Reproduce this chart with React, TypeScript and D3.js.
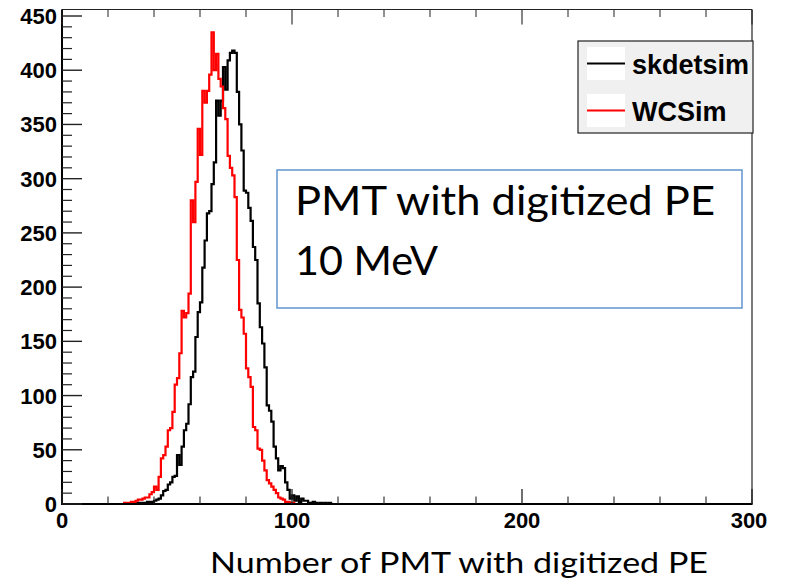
import React from 'react';
import * as d3 from 'd3';

// Histogram contents (1-unit bins on 0..300)
const skdetsimStart = 30;
const skdetsimCounts = [
  1, 0, 1, 1, 1, 1, 1, 2, 2, 2, // 30-39
  3, 4, 5, 8, 12, 13, 18, 20, 25, 26, // 40-49
  45, 36, 53, 68, 74, 92, 117, 122, 154, 177, // 50-59
  186, 218, 243, 268, 270, 295, 315, 372, 358, 372, // 60-69
  403, 382, 409, 416, 418, 416, 380, 350, 326, 289, // 70-79
  287, 273, 261, 237, 225, 185, 163, 148, 126, 91, // 80-89
  86, 76, 53, 42, 31, 35, 33, 20, 13, 5, // 90-99
  8, 3, 7, 2, 5, 3, 3, 1, 1, 2, // 100-109
  1, 0, 1, 0, 1, 0, 1, // 110-116
];

const wcsimStart = 27;
const wcsimCounts = [
  1, 1, 1, // 27-29
  2, 2, 3, 4, 4, 5, 6, 6, 9, 11, // 30-39
  16, 13, 25, 42, 45, 53, 68, 70, 85, 110, // 40-49
  116, 139, 178, 172, 176, 194, 280, 260, 297, 346, // 50-59
  322, 381, 370, 381, 396, 435, 400, 415, 392, 385, // 60-69
  365, 355, 321, 310, 303, 283, 225, 179, 172, 157, // 70-79
  125, 117, 108, 71, 68, 51, 50, 40, 31, 22, // 80-89
  19, 16, 13, 10, 6, 5, 4, 2, 2, 1, // 90-99
  1, // 100
];

const nBins = 300;
const xMajorTicks = [0, 100, 200, 300];
const xMinorStep = 20;
const yMajorTicks = [0, 50, 100, 150, 200, 250, 300, 350, 400, 450];
const yMinorStep = 10;
const legendLabels = ['skdetsim', 'WCSim'];
const seriesColors = ['#000000', '#ff0000'];
const boxLines = ['PMT with digitized PE', '10 MeV'];
const xTitle = 'Number of PMT with digitized PE';

function fullBins(start: number, counts: number[]): number[] {
  const arr = new Array(nBins).fill(0);
  counts.forEach((c, i) => {
    arr[start + i] = c;
  });
  return arr;
}

export default function App() {
  const x = d3.scaleLinear().domain([0, 300]).range([62, 752]);
  const y = d3.scaleLinear().domain([0, 456]).range([504, 9.5]);

  const stepPath = (bins: number[]) => {
    const pts: [number, number][] = [];
    bins.forEach((c, i) => {
      pts.push([i, c]);
      pts.push([i + 1, c]);
    });
    return d3
      .line<[number, number]>()
      .x((d) => x(d[0]))
      .y((d) => y(d[1]))(pts) as string;
  };

  const series = [fullBins(skdetsimStart, skdetsimCounts), fullBins(wcsimStart, wcsimCounts)];

  const xMinor = d3.range(0, 301, xMinorStep).filter((v) => !xMajorTicks.includes(v));
  const yMinor = d3.range(0, 451, yMinorStep).filter((v) => !yMajorTicks.includes(v));

  const tickColor = '#222';
  const numFont = "'Liberation Sans', Arial, Helvetica, sans-serif";
  const textFont = "Lato, 'Open Sans', sans-serif";

  return (
    <svg
      width={797}
      height={584}
      style={{ position: 'absolute', left: 0, top: 0, background: '#fff' }}
    >
      <rect x={0} y={0} width={797} height={584} fill="#fff" />
      {/* histograms */}
      {series.map((bins, i) => (
        <path
          key={i}
          d={stepPath(bins)}
          fill="none"
          stroke={seriesColors[i]}
          strokeWidth={2.2}
          strokeLinejoin="miter"
        />
      ))}

      {/* frame */}
      <line x1={x(0)} x2={x(300)} y1={9.5} y2={9.5} stroke="#222" strokeWidth={1.2} />
      <line x1={x(300)} x2={x(300)} y1={9.5} y2={504} stroke="#222" strokeWidth={1.2} />
      <line x1={x(0)} x2={x(0)} y1={9.5} y2={504} stroke="#000" strokeWidth={2} />
      <line x1={x(0) - 1} x2={x(300) + 0.6} y1={504} y2={504} stroke="#000" strokeWidth={2} />

      {/* y ticks */}
      {yMajorTicks.map((t) => (
        <g key={'ym' + t}>
          <line x1={x(0)} x2={x(0) + 20} y1={y(t)} y2={y(t)} stroke={tickColor} strokeWidth={1.4} />
          <text
            x={57}
            y={y(t) + 8}
            textAnchor="end"
            fontFamily={numFont}
            fontWeight="bold"
            fontSize={22}
            fill="#000"
          >
            {t}
          </text>
        </g>
      ))}
      {yMinor.map((t) => (
        <line key={'yn' + t} x1={x(0)} x2={x(0) + 10} y1={y(t)} y2={y(t)} stroke={tickColor} strokeWidth={1.2} />
      ))}

      {/* x ticks bottom and top */}
      {xMajorTicks.map((t) => (
        <g key={'xm' + t}>
          <line x1={x(t)} x2={x(t)} y1={504} y2={504 - 15} stroke={tickColor} strokeWidth={1.3} />
          <line x1={x(t)} x2={x(t)} y1={9.5} y2={9.5 + 15} stroke={tickColor} strokeWidth={1.1} />
          <text
            x={t === 300 ? x(t) - 3 : x(t)}
            y={528}
            textAnchor="middle"
            fontFamily={numFont}
            fontWeight="bold"
            fontSize={22}
            fill="#000"
          >
            {t}
          </text>
        </g>
      ))}
      {xMinor.map((t) => (
        <g key={'xn' + t}>
          <line x1={x(t)} x2={x(t)} y1={504} y2={504 - 7.5} stroke={tickColor} strokeWidth={1.1} />
          <line x1={x(t)} x2={x(t)} y1={9.5} y2={9.5 + 7.5} stroke={tickColor} strokeWidth={1} />
        </g>
      ))}

      {/* legend */}
      <rect x={578} y={41} width={175} height={92} fill="#f0f0f0" stroke="#222" strokeWidth={1.2} />
      {legendLabels.map((lab, i) => {
        const cy = 63.5 + i * 47;
        return (
          <g key={lab}>
            <rect x={587} y={cy - 16.5} width={38} height={33} fill="#fff" />
            <line x1={587} x2={625} y1={cy} y2={cy} stroke={seriesColors[i]} strokeWidth={2} />
            <text
              x={632}
              y={cy + 10}
              fontFamily={numFont}
              fontWeight="bold"
              fontSize={27}
              fill="#000"
            >
              {lab}
            </text>
          </g>
        );
      })}

      {/* annotation box */}
      <rect x={277} y={170} width={465} height={138} fill="#fff" stroke="#6b9bd2" strokeWidth={1.6} />
      <text
        x={295}
        y={215}
        fontFamily={textFont}
        fontSize={40}
        fill="#000"
        textLength={420}
        lengthAdjust="spacingAndGlyphs"
      >
        {boxLines[0]}
      </text>
      <text
        x={295}
        y={275}
        fontFamily={textFont}
        fontSize={40}
        fill="#000"
        textLength={143}
        lengthAdjust="spacingAndGlyphs"
      >
        {boxLines[1]}
      </text>

      {/* x title */}
      <text
        x={210}
        y={573}
        fontFamily={textFont}
        fontSize={28.5}
        fill="#000"
        textLength={498}
        lengthAdjust="spacingAndGlyphs"
      >
        {xTitle}
      </text>
    </svg>
  );
}
